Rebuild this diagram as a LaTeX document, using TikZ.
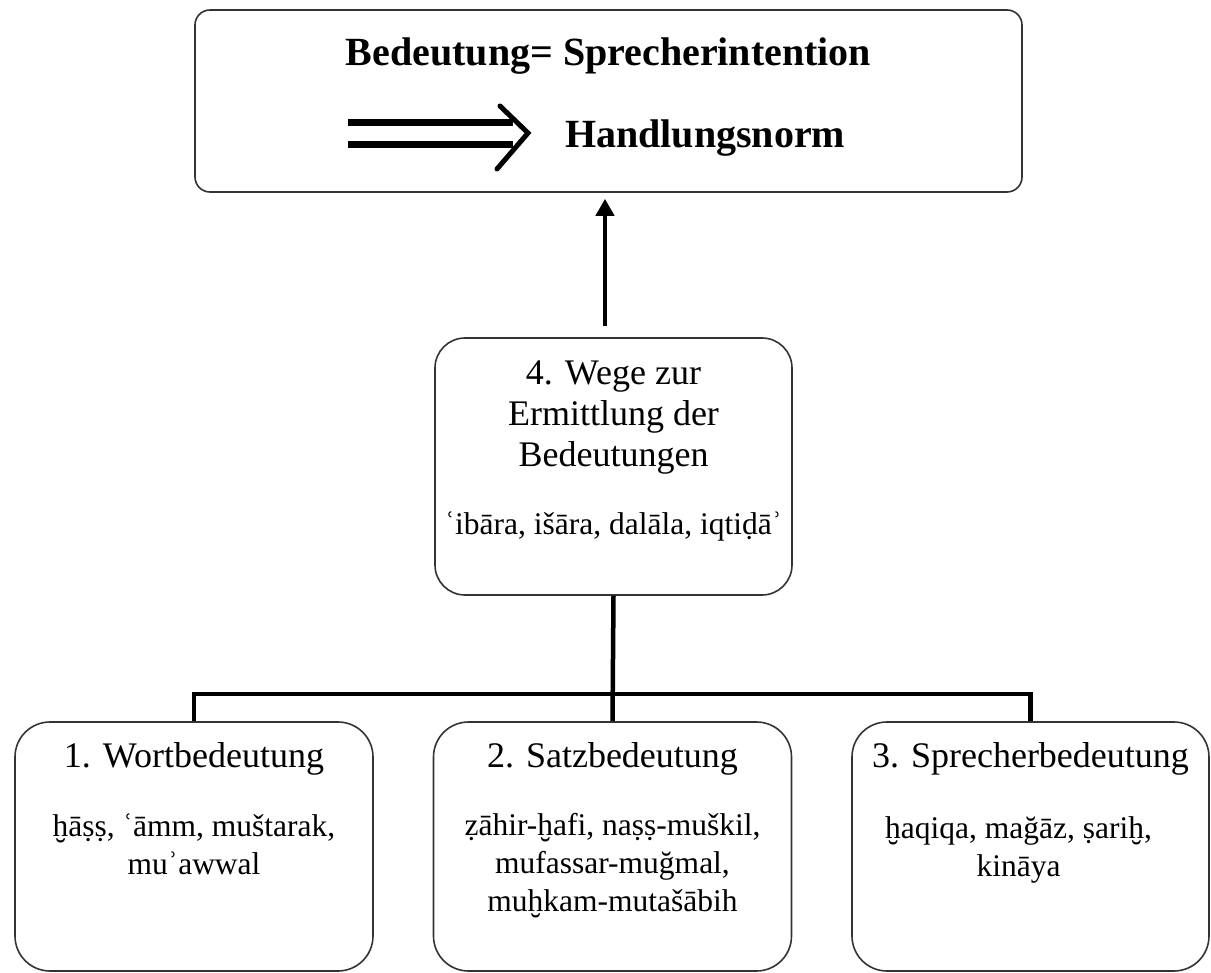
\documentclass[tikz,border=0pt]{standalone}
\usepackage{fontspec}
\setmainfont{Liberation Serif}
\usetikzlibrary{arrows.meta,positioning}

\tikzset{
  box/.style={draw=black!80, line width=1.6pt, rounded corners=#1, inner sep=0pt},
  box/.default=30pt,
  title/.style={font=\fontsize{36}{41}\selectfont, align=center, inner sep=0pt},
  translit/.style={font=\fontsize{31.5}{38}\selectfont, align=center, inner sep=0pt},
  headline/.style={font=\fontsize{40}{46}\selectfont\bfseries, inner sep=0pt},
  conn/.style={line width=4.5pt, black},
}

\begin{document}
\begin{tikzpicture}[x=1pt, y=-1pt]
    \useasboundingbox (0,0) rectangle (1211,973);

    % boxes
    \node[box=15pt, minimum width=827pt, minimum height=182pt] (ziel) at (608.5,101) {};
    \node[box=30pt, minimum width=357pt, minimum height=257pt] (wege) at (613.5,466.5) {};
    \node[box=35pt, minimum width=358pt, minimum height=249pt] (wort) at (194,846.5) {};
    \node[box=35pt, minimum width=358pt, minimum height=249pt] (satz) at (612.5,846.5) {};
    \node[box=35pt, minimum width=357pt, minimum height=249pt] (sprecher) at (1030.5,846.5) {};

    % top box
    \node[headline, anchor=base] (intention) at ([yshift=-56pt]ziel.north) {Bedeutung= Sprecherintention};
    \node[headline, anchor=base west] (norm) at (565,148) {Handlungsnorm};
    \coordinate (pfeilA) at (348,123);
    \coordinate (pfeilB) at (348,145);
    \draw[line width=7pt] (pfeilA) -- ++(165,0);
    \draw[line width=7pt] (pfeilB) -- ++(165,0);
    \draw[line width=5pt, line cap=round] (500,106) -- (528,133) -- (497,169);

    % middle box (base = last line)
    \node[title, anchor=base] (wegeT) at ([yshift=-129pt]wege.north) {4. Wege zur\\Ermittlung der\\Bedeutungen};
    \node[translit, anchor=base] (wegeL) at ([yshift=-197pt]wege.north) {ʿibāra, išāra, dalāla, iqtiḍāʾ};

    % bottom boxes
    \node[title, anchor=base] (wortT) at ([yshift=-46pt]wort.north) {1. Wortbedeutung};
    \node[translit, anchor=base] (wortL) at ([yshift=-153pt]wort.north) {ḫāṣṣ, ʿāmm, muštarak,\\muʾawwal};

    \node[title, anchor=base] (satzT) at ([yshift=-46pt]satz.north) {2. Satzbedeutung};
    \node[translit, anchor=base] (satzL) at ([yshift=-190pt]satz.north) {ẓāhir-ḫafi, naṣṣ-muškil,\\mufassar-muğmal,\\muḫkam-mutašābih};

    \node[title, anchor=base] (sprecherT) at ([yshift=-46pt]sprecher.north) {3. Sprecherbedeutung};
    \node[translit, anchor=base] (sprecherL) at ([xshift=-12pt,yshift=-155pt]sprecher.north) {ḫaqiqa, mağāz, ṣariḫ,\\kināya};

    % connectors
    \draw[conn, -{Triangle[length=17pt, width=18pt]}, shorten <=11pt, shorten >=6pt]
        ([xshift=-8.5pt]wege.north) -- ([xshift=-3.5pt]ziel.south);
    \draw[conn] (wege.south) -- (satz.north);
    \draw[conn] (wort.north) -- ++(0,-27) -| (sprecher.north);
\end{tikzpicture}
\end{document}
